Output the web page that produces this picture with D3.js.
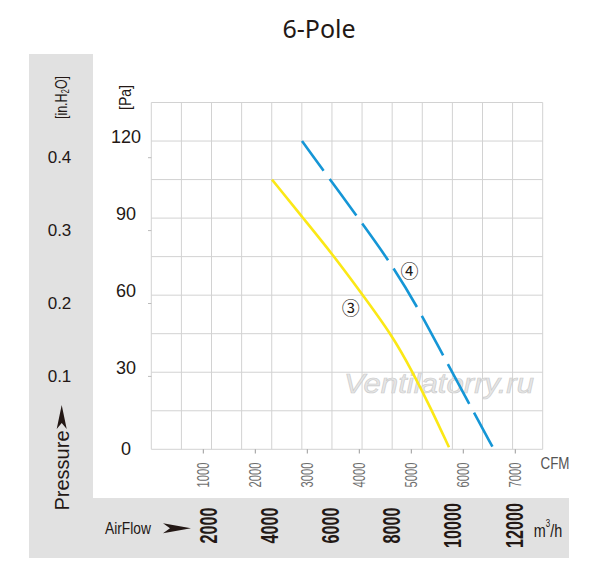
<!DOCTYPE html>
<html>
<head>
<meta charset="utf-8">
<script src="https://cdn.jsdelivr.net/npm/d3@7"></script>
<style>
  body { margin: 0; background: #fff; }
</style>
</head>
<body>
<div id="chart"></div>
<script>
// values
const cfmTicks = [1000, 2000, 3000, 4000, 5000, 6000, 7000]
const paTicks = [0, 30, 60, 90, 120]
const inH2OTicks = [0.1, 0.2, 0.3, 0.4]
const m3hTicks = [2000, 4000, 6000, 8000, 10000, 12000]

const curve3Cfm = [2321, 2898, 3475, 4058, 4635, 5038, 5360, 5725]
const curve3Pa = [105, 90.5, 76.2, 60.3, 44.3, 29.6, 16.6, 0.8]
const curve4Cfm = [2898, 3962, 4577, 5135, 5629, 6129, 6560]
const curve4Pa = [120, 90.5, 73.4, 54.9, 35.8, 17.2, 1]

const width = 600
const height = 570
const ink = '#231815'
const band = '#e1e1e1'
const sans = "'Liberation Sans', Arial, sans-serif"

const svg = d3
  .select('#chart')
  .append('svg')
  .attr('width', width)
  .attr('height', height)
  .attr('font-family', sans)

// gray L-shaped background
svg.append('rect')
  .attr('x', 29).attr('y', 54).attr('width', 64).attr('height', 504)
  .attr('fill', band)
svg.append('rect')
  .attr('x', 29).attr('y', 498).attr('width', 540).attr('height', 60)
  .attr('fill', band)

// scales
const xScale = d3.scaleLinear().domain([0, 7527]).range([151.3, 542.7])
const yScale = d3.scaleLinear().domain([0, 135]).range([449.3, 102.5])
const yInScale = d3.scaleLinear().domain([0, 0.4]).range([449.3, 157.7])

// grid
const gridCols = 13
const grid = svg.append('g').attr('stroke', '#d2d2d2').attr('stroke-width', 1)
grid.selectAll('.hline')
  .data(d3.range(0, 136, 15))
  .enter().append('line')
  .attr('x1', xScale.range()[0]).attr('x2', xScale.range()[1])
  .attr('y1', d => yScale(d)).attr('y2', d => yScale(d))
grid.selectAll('.vline')
  .data(d3.range(gridCols + 1))
  .enter().append('line')
  .attr('x1', i => xScale(i * 7527 / gridCols))
  .attr('x2', i => xScale(i * 7527 / gridCols))
  .attr('y1', yScale(0)).attr('y2', yScale(135))

// small ticks for in.H2O
svg.append('g').selectAll('line')
  .data(inH2OTicks)
  .enter().append('line')
  .attr('x1', 148).attr('x2', 151.3)
  .attr('y1', d => yInScale(d)).attr('y2', d => yInScale(d))
  .attr('stroke', '#bbb')

// CFM ticks
svg.append('g').selectAll('line')
  .data(cfmTicks)
  .enter().append('line')
  .attr('x1', d => xScale(d)).attr('x2', d => xScale(d))
  .attr('y1', 449.3).attr('y2', 453.5)
  .attr('stroke', '#999')

// watermark
svg.append('text')
  .attr('x', 439).attr('y', 393)
  .attr('text-anchor', 'middle')
  .attr('font-size', 27)
  .attr('font-style', 'italic')
  .attr('textLength', 190)
  .attr('lengthAdjust', 'spacingAndGlyphs')
  .attr('fill', '#e6e6e6')
  .attr('stroke', '#cacaca')
  .attr('stroke-width', 0.6)
  .text('Ventilatorry.ru')

// curves
const line = d3.line()
  .x(d => xScale(d[0]))
  .y(d => yScale(d[1]))
  .curve(d3.curveBasis)

svg.append('path')
  .datum(d3.zip(curve3Cfm, curve3Pa))
  .attr('d', line)
  .attr('fill', 'none')
  .attr('stroke', '#fbe816')
  .attr('stroke-width', 2.6)

svg.append('path')
  .datum(d3.zip(curve4Cfm, curve4Pa))
  .attr('d', line)
  .attr('fill', 'none')
  .attr('stroke', '#1596d6')
  .attr('stroke-width', 2.6)
  .attr('stroke-dasharray', '45,10')
  .attr('stroke-dashoffset', 8)

// curve labels
const circled = "'Noto Sans CJK JP', 'DejaVu Sans', serif"
svg.append('text')
  .attr('x', 350.7).attr('y', 307)
  .attr('text-anchor', 'middle')
  .attr('dominant-baseline', 'central')
  .attr('font-family', circled)
  .attr('font-size', 18)
  .attr('fill', ink)
  .text('③')
svg.append('text')
  .attr('x', 409.5).attr('y', 270)
  .attr('text-anchor', 'middle')
  .attr('dominant-baseline', 'central')
  .attr('font-family', circled)
  .attr('font-size', 18)
  .attr('fill', ink)
  .text('④')

// title
svg.append('text')
  .attr('x', 319).attr('y', 38)
  .attr('text-anchor', 'middle')
  .attr('font-family', "'Noto Sans', sans-serif")
  .attr('font-size', 25)
  .attr('fill', ink)
  .text('6-Pole')

// Pa labels
svg.append('g').selectAll('text')
  .data(paTicks)
  .enter().append('text')
  .attr('x', 126)
  .attr('y', d => yScale(d) - (d === 0 ? 0 : 4))
  .attr('text-anchor', 'middle')
  .attr('dominant-baseline', 'central')
  .attr('font-size', 18)
  .attr('fill', ink)
  .text(d => d)

// in.H2O labels
svg.append('g').selectAll('text')
  .data(inH2OTicks)
  .enter().append('text')
  .attr('x', 59.5)
  .attr('y', d => yInScale(d))
  .attr('text-anchor', 'middle')
  .attr('dominant-baseline', 'central')
  .attr('font-size', 17)
  .attr('fill', ink)
  .text(d => d)

// CFM labels (rotated, narrow)
svg.append('g').selectAll('text')
  .data(cfmTicks)
  .enter().append('text')
  .attr('transform', d => 'translate(' + xScale(d) + ',475) rotate(-90)')
  .attr('text-anchor', 'middle')
  .attr('dominant-baseline', 'central')
  .attr('font-size', 16)
  .attr('textLength', 25)
  .attr('lengthAdjust', 'spacingAndGlyphs')
  .attr('fill', '#6e6e6e')
  .text(d => d)

svg.append('text')
  .attr('x', 555).attr('y', 463)
  .attr('text-anchor', 'middle')
  .attr('dominant-baseline', 'central')
  .attr('font-size', 17)
  .attr('textLength', 29)
  .attr('lengthAdjust', 'spacingAndGlyphs')
  .attr('fill', '#555')
  .text('CFM')

// m3/h labels (rotated, bold narrow)
svg.append('g').selectAll('text')
  .data(m3hTicks)
  .enter().append('text')
  .attr('transform', d => 'translate(' + (xScale(d / 1.699) - 4) + ',525.5) rotate(-90)')
  .attr('text-anchor', 'middle')
  .attr('dominant-baseline', 'central')
  .attr('font-size', 23)
  .attr('font-weight', 'bold')
  .attr('textLength', d => String(d).length * 9)
  .attr('lengthAdjust', 'spacingAndGlyphs')
  .attr('fill', ink)
  .text(d => d)

svg.append('text')
  .attr('x', 128).attr('y', 528.5)
  .attr('text-anchor', 'middle')
  .attr('dominant-baseline', 'central')
  .attr('font-size', 17)
  .attr('textLength', 46)
  .attr('lengthAdjust', 'spacingAndGlyphs')
  .attr('fill', ink)
  .text('AirFlow')

const m3h = svg.append('text')
  .attr('transform', 'translate(548,530) scale(0.8,1)')
  .attr('text-anchor', 'middle')
  .attr('dominant-baseline', 'central')
  .attr('font-size', 18)
  .attr('fill', ink)
m3h.append('tspan').text('m')
m3h.append('tspan').attr('font-size', 10).attr('dy', -6).text('3')
m3h.append('tspan').attr('dy', 6).text('/h')

// arrow heads
svg.append('path')
  .attr('d', 'M0,-5 L28,0 L0,5 L7,0 Z')
  .attr('transform', 'translate(163,528.3)')
  .attr('fill', ink)
svg.append('path')
  .attr('d', 'M0,-5 L24,0 L0,5 L6,0 Z')
  .attr('transform', 'translate(61.7,429) rotate(-90)')
  .attr('fill', ink)

svg.append('text')
  .attr('transform', 'translate(61.7,470.5) rotate(-90)')
  .attr('text-anchor', 'middle')
  .attr('dominant-baseline', 'central')
  .attr('font-size', 20)
  .attr('fill', ink)
  .text('Pressure')

// unit labels
const inLabel = svg.append('text')
  .attr('transform', 'translate(61.7,97.5) rotate(-90) scale(0.78,1)')
  .attr('text-anchor', 'middle')
  .attr('dominant-baseline', 'central')
  .attr('font-size', 16)
  .attr('fill', ink)
inLabel.append('tspan').text('[in.H')
inLabel.append('tspan').attr('font-size', 10).attr('dy', 4).text('2')
inLabel.append('tspan').attr('dy', -4).text('O]')

svg.append('text')
  .attr('transform', 'translate(125,97.5) rotate(-90)')
  .attr('text-anchor', 'middle')
  .attr('dominant-baseline', 'central')
  .attr('font-size', 16)
  .attr('textLength', 25)
  .attr('lengthAdjust', 'spacingAndGlyphs')
  .attr('fill', ink)
  .text('[Pa]')
</script>
</body>
</html>
